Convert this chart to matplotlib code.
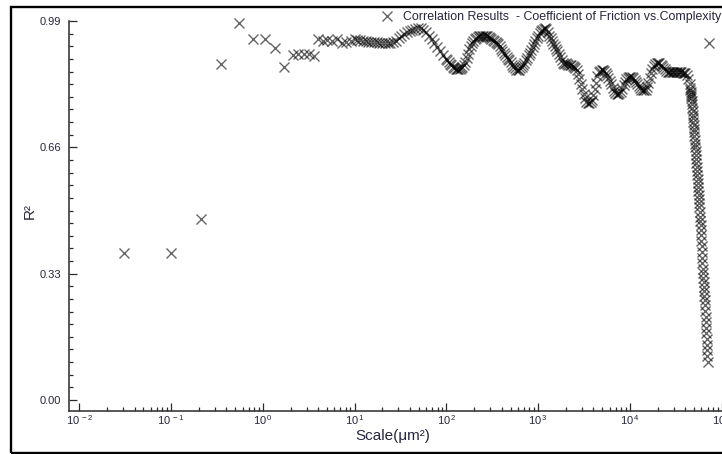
import numpy as np
import matplotlib
matplotlib.use("Agg")
import matplotlib.pyplot as plt
from matplotlib.ticker import FixedLocator, FuncFormatter, MultipleLocator
from matplotlib.patches import Rectangle

plt.rcParams["font.family"] = ["Liberation Sans", "DejaVu Sans"]
plt.rcParams["mathtext.fontset"] = "custom"
plt.rcParams["mathtext.rm"] = "Liberation Sans"
plt.rcParams["mathtext.default"] = "regular"
plt.rcParams["axes.unicode_minus"] = False

# ---- data: log10 of scale (um^2) and R^2 ------------------------------------
# coarse scales, individual points
exp_coarse = [-1.513, -1.001, -0.674, -0.456, -0.260, -0.111, 0.020, 0.129,
              0.234, 0.325, 0.386, 0.452, 0.506, 0.557, 0.604, 0.652, 0.702,
              0.753, 0.805, 0.859, 0.906, 0.960, 1.004]
r2_coarse = [0.384, 0.384, 0.473, 0.878, 0.985, 0.942, 0.942, 0.920,
             0.869, 0.900, 0.904, 0.904, 0.904, 0.899, 0.944, 0.939, 0.940,
             0.939, 0.944, 0.932, 0.935, 0.939, 0.942]

# 10 .. 100 um^2
exp_mid = [1.03, 1.06, 1.09, 1.12, 1.15, 1.18, 1.21, 1.24, 1.27, 1.30,
           1.33, 1.36, 1.39, 1.42, 1.45, 1.48, 1.51, 1.54, 1.57, 1.60,
           1.63, 1.66, 1.69, 1.72, 1.75, 1.78, 1.81, 1.84, 1.87, 1.90,
           1.93, 1.96, 1.99]
r2_mid = [0.941, 0.940, 0.938, 0.937, 0.936, 0.935, 0.934, 0.934, 0.933, 0.933,
          0.933, 0.933, 0.933, 0.934, 0.939, 0.945, 0.951, 0.956, 0.960, 0.964,
          0.967, 0.970, 0.972, 0.971, 0.967, 0.961, 0.952, 0.942, 0.932, 0.921,
          0.911, 0.901, 0.892]

# 100 .. 45000 um^2, dense
exp_fine = [2.010, 2.025, 2.040, 2.055, 2.070, 2.085, 2.100, 2.115, 2.130, 2.145,
            2.160, 2.175, 2.190, 2.205, 2.220, 2.235, 2.250, 2.265, 2.280, 2.295,
            2.310, 2.325, 2.340, 2.355, 2.370, 2.385, 2.400, 2.415, 2.430, 2.445,
            2.460, 2.475, 2.490, 2.505, 2.520, 2.535, 2.550, 2.565, 2.580, 2.595,
            2.610, 2.625, 2.640, 2.655, 2.670, 2.685, 2.700, 2.715, 2.730, 2.745,
            2.760, 2.775, 2.790, 2.805, 2.820, 2.835, 2.850, 2.865, 2.880, 2.895,
            2.910, 2.925, 2.940, 2.955, 2.970, 2.985, 3.000, 3.015, 3.030, 3.045,
            3.060, 3.075, 3.090, 3.105, 3.120, 3.135, 3.150, 3.165, 3.180, 3.195,
            3.210, 3.225, 3.240, 3.255, 3.270, 3.285, 3.300, 3.315, 3.330, 3.345,
            3.360, 3.375, 3.390, 3.405, 3.420, 3.435, 3.450, 3.465, 3.480, 3.495,
            3.510, 3.525, 3.540, 3.555, 3.570, 3.585, 3.600, 3.615, 3.630, 3.645,
            3.660, 3.675, 3.690, 3.705, 3.720, 3.735, 3.750, 3.765, 3.780, 3.795,
            3.810, 3.825, 3.840, 3.855, 3.870, 3.885, 3.900, 3.915, 3.930, 3.945,
            3.960, 3.975, 3.990, 4.005, 4.020, 4.035, 4.050, 4.065, 4.080, 4.095,
            4.110, 4.125, 4.140, 4.155, 4.170, 4.185, 4.200, 4.215, 4.230, 4.245,
            4.260, 4.275, 4.290, 4.305, 4.320, 4.335, 4.350, 4.365, 4.380, 4.395,
            4.410, 4.425, 4.440, 4.455, 4.470, 4.485, 4.500, 4.515, 4.530, 4.545,
            4.560, 4.575, 4.590, 4.605, 4.620, 4.635, 4.650]
r2_fine = [0.887, 0.883, 0.878, 0.874, 0.870, 0.867, 0.865, 0.864, 0.864, 0.865,
           0.867, 0.870, 0.875, 0.882, 0.893, 0.905, 0.917, 0.926, 0.933, 0.939,
           0.943, 0.946, 0.948, 0.950, 0.951, 0.952, 0.952, 0.952, 0.951, 0.950,
           0.948, 0.946, 0.943, 0.940, 0.938, 0.936, 0.933, 0.929, 0.924, 0.918,
           0.912, 0.906, 0.901, 0.897, 0.892, 0.887, 0.882, 0.876, 0.871, 0.866,
           0.863, 0.862, 0.863, 0.866, 0.869, 0.874, 0.880, 0.887, 0.894, 0.900,
           0.906, 0.913, 0.921, 0.929, 0.937, 0.945, 0.952, 0.958, 0.963, 0.967,
           0.970, 0.972, 0.968, 0.960, 0.952, 0.945, 0.938, 0.931, 0.925, 0.918,
           0.911, 0.903, 0.895, 0.887, 0.880, 0.878, 0.879, 0.878, 0.876, 0.875,
           0.874, 0.873, 0.870, 0.867, 0.862, 0.852, 0.839, 0.826, 0.812, 0.799,
           0.788, 0.779, 0.775, 0.775, 0.778, 0.784, 0.797, 0.812, 0.829, 0.846,
           0.856, 0.860, 0.862, 0.862, 0.859, 0.854, 0.848, 0.842, 0.834, 0.825,
           0.816, 0.808, 0.802, 0.800, 0.800, 0.801, 0.805, 0.812, 0.822, 0.831,
           0.838, 0.842, 0.844, 0.845, 0.844, 0.841, 0.836, 0.831, 0.826, 0.820,
           0.815, 0.811, 0.809, 0.809, 0.811, 0.818, 0.829, 0.841, 0.853, 0.865,
           0.873, 0.877, 0.879, 0.880, 0.879, 0.876, 0.872, 0.868, 0.864, 0.860,
           0.858, 0.857, 0.857, 0.857, 0.857, 0.857, 0.857, 0.857, 0.856, 0.856,
           0.856, 0.855, 0.855, 0.853, 0.848, 0.838, 0.825]

# largest scales, where the correlation collapses
exp_drop = [4.655, 4.658, 4.661, 4.664, 4.667, 4.670, 4.673, 4.676, 4.679, 4.682,
            4.685, 4.688, 4.691, 4.694, 4.697, 4.700, 4.703, 4.706, 4.709, 4.712,
            4.715, 4.718, 4.721, 4.724, 4.727, 4.730, 4.733, 4.736, 4.739, 4.742,
            4.745, 4.748, 4.751, 4.754, 4.757, 4.760, 4.763, 4.766, 4.769, 4.772,
            4.775, 4.778, 4.781, 4.784, 4.787, 4.790, 4.793, 4.796, 4.799, 4.802,
            4.805, 4.808, 4.811, 4.814, 4.817, 4.820, 4.823, 4.826, 4.829, 4.832,
            4.835, 4.838, 4.841, 4.844, 4.847]
r2_drop = [0.816, 0.810, 0.805, 0.799, 0.793, 0.788, 0.781, 0.772, 0.763, 0.754,
           0.745, 0.736, 0.727, 0.718, 0.709, 0.700, 0.690, 0.680, 0.670, 0.660,
           0.650, 0.639, 0.629, 0.619, 0.609, 0.599, 0.588, 0.578, 0.567, 0.557,
           0.546, 0.536, 0.525, 0.514, 0.503, 0.491, 0.479, 0.467, 0.456, 0.444,
           0.431, 0.416, 0.401, 0.387, 0.372, 0.357, 0.343, 0.331, 0.319, 0.308,
           0.296, 0.284, 0.272, 0.261, 0.247, 0.232, 0.218, 0.204, 0.189, 0.175,
           0.160, 0.145, 0.130, 0.114, 0.099]

exp_last = [4.861]
r2_last = [0.933]

scale = 10.0 ** np.concatenate([exp_coarse, exp_mid, exp_fine, exp_drop, exp_last])
r2 = np.concatenate([r2_coarse, r2_mid, r2_fine, r2_drop, r2_last])

x_decades = [-2, -1, 0, 1, 2, 3, 4, 5]
y_ticks = [0.00, 0.33, 0.66, 0.99]
legend_label = "Correlation Results  - Coefficient of Friction vs.Complexity"

# ---- figure ----------------------------------------------------------------
W, H = 722, 454
fig = plt.figure(figsize=(W / 100, H / 100), dpi=100)
fig.patch.set_facecolor("white")

# outer frame
fig.add_artist(Rectangle((11.3 / W, 1.3 / H), 1.2, (452.7 - 6.8) / H,
                         transform=fig.transFigure, fill=False,
                         edgecolor="black", linewidth=1.7, clip_on=False))

ax = fig.add_axes([68.5 / W, 43 / H, 671.6 / W, 390 / H])
ax.set_xscale("log")
ax.set_xlim(10 ** -2.118, 10 ** 5.2)
ax.set_ylim(-0.0287, 0.99)

text_color = "#26263e"
axis_color = "#2b2b2b"

# thin translucent crosses: single ones read grey, overlapping ones go black
sc = ax.plot(scale, r2, linestyle="none", marker="x", markersize=6.6,
             markeredgewidth=1.0, color="black", alpha=0.6, clip_on=False,
             label=legend_label)

for side in ("top", "right"):
    ax.spines[side].set_visible(False)
for side in ("left", "bottom"):
    ax.spines[side].set_color(axis_color)
    ax.spines[side].set_linewidth(1.1)

ax.yaxis.set_major_locator(FixedLocator(y_ticks))
ax.yaxis.set_major_formatter(FuncFormatter(lambda v, p: f"{v:.2f}"))
ax.yaxis.set_minor_locator(MultipleLocator(0.033))

major_x = [10.0 ** d for d in x_decades]
minor_x = [m * 10.0 ** d for d in x_decades[:-1] for m in range(2, 10)]
ax.xaxis.set_major_locator(FixedLocator(major_x))
ax.xaxis.set_minor_locator(FixedLocator(minor_x))
ax.xaxis.set_major_formatter(
    FuncFormatter(lambda v, p: r"$10^{\,%d}$" % int(round(np.log10(v)))))

ax.tick_params(axis="both", which="both", direction="in", color=axis_color,
               width=0.9, labelcolor=text_color, labelsize=8)
ax.tick_params(axis="both", which="major", length=5.5)
ax.tick_params(axis="both", which="minor", length=2.8)
ax.tick_params(axis="y", which="major", pad=5.5)
ax.tick_params(axis="x", which="major", pad=1.5)

fig.text(392.5 / W, 1 - 436 / H, "Scale(μm²)", ha="center", va="center",
         fontsize=11, color=text_color)
fig.text(30 / W, 1 - 211 / H, "R²", ha="center", va="center", rotation=90,
         fontsize=11, color=text_color)

leg = fig.legend(handles=sc, loc="center left",
                 bbox_to_anchor=(380.8 / W, 1 - 17 / H), frameon=False,
                 fontsize=8.9, handlelength=1.0, handletextpad=0.8,
                 borderpad=0, borderaxespad=0)
for t in leg.get_texts():
    t.set_color(text_color)

fig.savefig("out.png", dpi=100, facecolor="white")
